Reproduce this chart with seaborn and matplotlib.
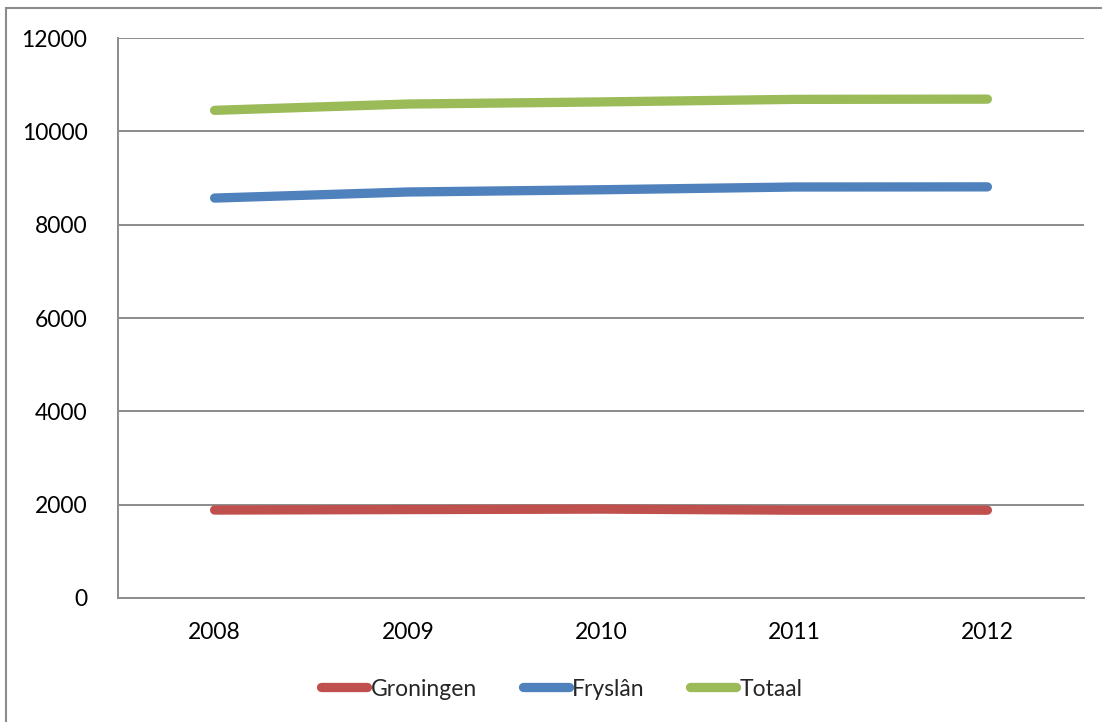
import matplotlib
matplotlib.use("Agg")
import matplotlib.pyplot as plt
import seaborn as sns
import pandas as pd
from matplotlib.patches import Rectangle
from matplotlib.lines import Line2D

years = ["2008", "2009", "2010", "2011", "2012"]
groningen = [1885, 1895, 1905, 1882, 1882]
fryslan = [8570, 8700, 8748, 8807, 8810]
totaal = [10450, 10585, 10630, 10685, 10690]
series_names = ["Groningen", "Fryslân", "Totaal"]
colors = ["#C0504D", "#4F81BD", "#9BBB59"]
yticks = [0, 2000, 4000, 6000, 8000, 10000, 12000]

df = pd.DataFrame({"Jaar": years * 3,
                   "Waarde": groningen + fryslan + totaal,
                   "Reeks": [s for s in series_names for _ in years]})

sns.set_theme(style="white")
plt.rcParams['font.family'] = ['Lato', 'DejaVu Sans']

fig = plt.figure(figsize=(11.02, 7.22), dpi=100)
ax = fig.add_axes([118/1102, 1 - 598/722, (1084-118)/1102, (598-38)/722])

sns.lineplot(data=df, x="Jaar", y="Waarde", hue="Reeks", hue_order=series_names,
             palette=colors, linewidth=6.7, ax=ax, legend=False,
             solid_capstyle="round", sort=False)

ax.set_xlim(-0.5, 4.5)
ax.set_ylim(0, 12000)
ax.set_yticks(yticks)
ax.set_yticklabels([str(v) for v in yticks])
ax.set_xlabel("")
ax.set_ylabel("")
ax.yaxis.grid(True, color="#8C8C8C", linewidth=1.4)
ax.set_axisbelow(True)
for s in ["top", "right"]:
    ax.spines[s].set_visible(False)
for s in ["left", "bottom"]:
    ax.spines[s].set_color("#8C8C8C")
    ax.spines[s].set_linewidth(1.4)
ax.tick_params(axis="both", length=0, labelsize=16.5, colors="black")
ax.tick_params(axis="y", pad=22)
ax.tick_params(axis="x", pad=17)

handles = [Line2D([0], [0], color=c, linewidth=6.7, solid_capstyle="round") for c in colors]
fig.legend(handles, series_names, loc="center", bbox_to_anchor=(562/1102, 1 - 689/722),
           ncol=3, frameon=False, fontsize=16.5, handlelength=2.0, handletextpad=0.15,
           columnspacing=2.0)

fig.patches.append(Rectangle((6/1102, -0.01), 1.1, 1 - 8/722 + 0.01, transform=fig.transFigure,
                             fill=False, edgecolor="#8C8C8C", linewidth=1.5))

fig.savefig("out.png", dpi=100, facecolor="white")
